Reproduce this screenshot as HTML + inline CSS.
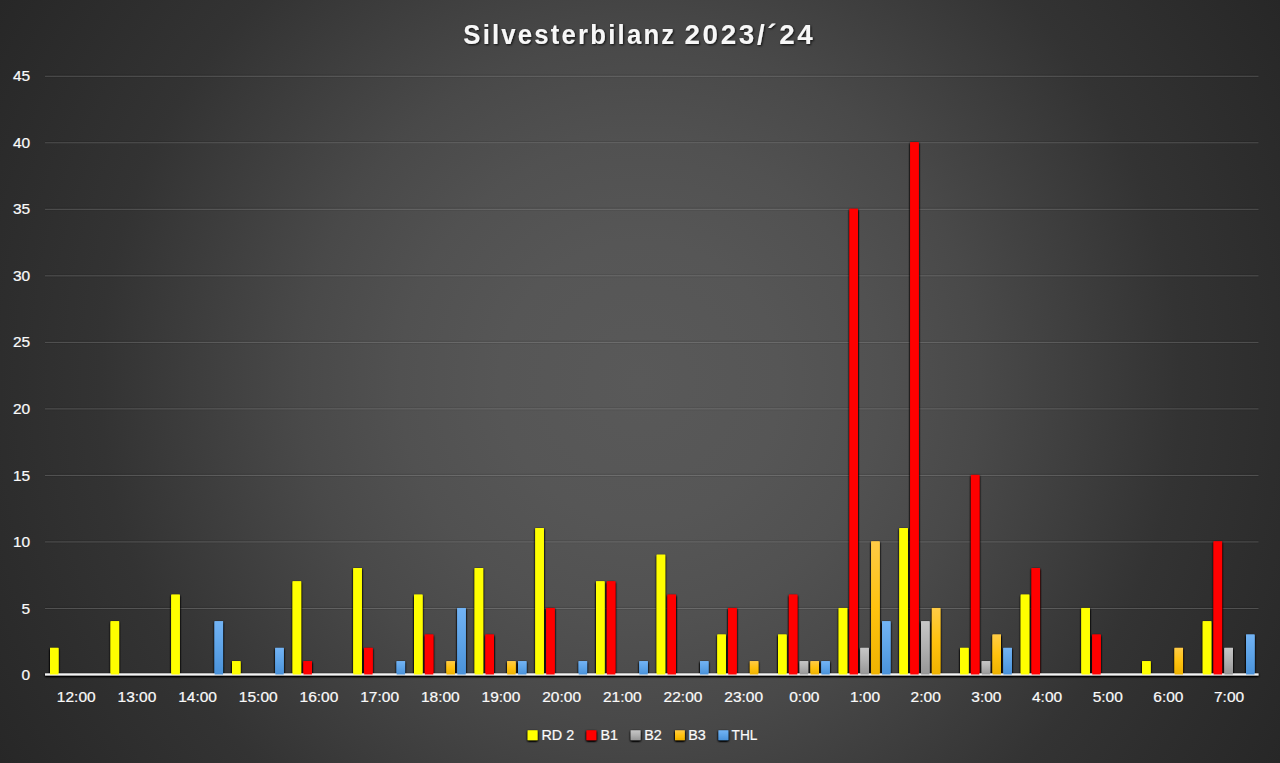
<!DOCTYPE html>
<html lang="de">
<head>
<meta charset="utf-8">
<title>Silvesterbilanz 2023/´24</title>
<style>
html,body{margin:0;padding:0;background:#272727;}
body{width:1280px;height:763px;overflow:hidden;font-family:"Liberation Sans",sans-serif;}
svg{display:block;}
.lbl{font-family:"Liberation Sans",sans-serif;font-size:15.2px;fill:#fafafa;stroke:#fafafa;stroke-width:0.22px;}
.ttl{font-family:"Liberation Sans",sans-serif;font-weight:bold;font-size:27.8px;fill:#f7f7f7;}
</style>
</head>
<body>
<svg width="1280" height="763" viewBox="0 0 1280 763">
<defs>
<radialGradient id="bg" cx="640" cy="381.5" r="745" gradientUnits="userSpaceOnUse">
<stop offset="0.0000" stop-color="#595959"/>
<stop offset="0.1879" stop-color="#565656"/>
<stop offset="0.3221" stop-color="#515151"/>
<stop offset="0.4564" stop-color="#494949"/>
<stop offset="0.5906" stop-color="#3e3e3e"/>
<stop offset="0.7248" stop-color="#333333"/>
<stop offset="0.8591" stop-color="#2d2d2d"/>
<stop offset="1.0000" stop-color="#272727"/>
</radialGradient>
<linearGradient id="gG" x1="0" y1="0" x2="0" y2="1"><stop offset="0" stop-color="#c6c6c6"/><stop offset="0.5" stop-color="#b0b0b0"/><stop offset="1" stop-color="#969696"/></linearGradient>
<linearGradient id="gO" x1="0" y1="0" x2="0" y2="1"><stop offset="0" stop-color="#ffcb45"/><stop offset="0.5" stop-color="#ffc20f"/><stop offset="1" stop-color="#eeb200"/></linearGradient>
<linearGradient id="gB" x1="0" y1="0" x2="0" y2="1"><stop offset="0" stop-color="#72b3f4"/><stop offset="0.5" stop-color="#5ea4e8"/><stop offset="1" stop-color="#4a92da"/></linearGradient>
<filter id="sh" x="-20" y="-20" width="1320" height="803" filterUnits="userSpaceOnUse">
<feGaussianBlur in="SourceAlpha" stdDeviation="1.3"/><feOffset dx="0" dy="0.5"/><feComponentTransfer result="b"><feFuncA type="linear" slope="2.4"/></feComponentTransfer>
<feFlood flood-color="#000" flood-opacity="0.9"/><feComposite in2="b" operator="in"/>
<feMerge><feMergeNode/><feMergeNode in="SourceGraphic"/></feMerge>
</filter>
<filter id="tsh" x="-20" y="-20" width="1320" height="803" filterUnits="userSpaceOnUse">
<feGaussianBlur in="SourceAlpha" stdDeviation="1.2"/><feOffset dx="0.6" dy="1.0" result="b"/>
<feFlood flood-color="#000" flood-opacity="0.8"/><feComposite in2="b" operator="in"/>
<feMerge><feMergeNode/><feMergeNode in="SourceGraphic"/></feMerge>
</filter>
</defs>
<rect x="0" y="0" width="1280" height="763" fill="url(#bg)"/>

<g stroke="#000" stroke-opacity="0.10" stroke-width="3">
<line x1="45.0" y1="608.27" x2="1258.5" y2="608.27"/>
<line x1="45.0" y1="541.75" x2="1258.5" y2="541.75"/>
<line x1="45.0" y1="475.23" x2="1258.5" y2="475.23"/>
<line x1="45.0" y1="408.70" x2="1258.5" y2="408.70"/>
<line x1="45.0" y1="342.18" x2="1258.5" y2="342.18"/>
<line x1="45.0" y1="275.65" x2="1258.5" y2="275.65"/>
<line x1="45.0" y1="209.12" x2="1258.5" y2="209.12"/>
<line x1="45.0" y1="142.60" x2="1258.5" y2="142.60"/>
<line x1="45.0" y1="76.07" x2="1258.5" y2="76.07"/>
</g>
<g stroke="#e0e0e0" stroke-opacity="0.23" stroke-width="1">
<line x1="45.0" y1="608.48" x2="1258.5" y2="608.48"/>
<line x1="45.0" y1="541.95" x2="1258.5" y2="541.95"/>
<line x1="45.0" y1="475.43" x2="1258.5" y2="475.43"/>
<line x1="45.0" y1="408.90" x2="1258.5" y2="408.90"/>
<line x1="45.0" y1="342.38" x2="1258.5" y2="342.38"/>
<line x1="45.0" y1="275.85" x2="1258.5" y2="275.85"/>
<line x1="45.0" y1="209.32" x2="1258.5" y2="209.32"/>
<line x1="45.0" y1="142.80" x2="1258.5" y2="142.80"/>
<line x1="45.0" y1="76.27" x2="1258.5" y2="76.27"/>
</g>
<g class="lbl" text-anchor="end">
<text transform="translate(30.2,680.10) scale(1.02,1)">0</text>
<text transform="translate(30.2,613.58) scale(1.02,1)">5</text>
<text transform="translate(30.2,547.05) scale(1.02,1)">10</text>
<text transform="translate(30.2,480.53) scale(1.02,1)">15</text>
<text transform="translate(30.2,414.00) scale(1.02,1)">20</text>
<text transform="translate(30.2,347.48) scale(1.02,1)">25</text>
<text transform="translate(30.2,280.95) scale(1.02,1)">30</text>
<text transform="translate(30.2,214.42) scale(1.02,1)">35</text>
<text transform="translate(30.2,147.90) scale(1.02,1)">40</text>
<text transform="translate(30.2,81.37) scale(1.02,1)">45</text>
</g>
<g filter="url(#sh)"><g id="bars">
<g fill="#ffff00">
<rect x="50.00" y="647.89" width="8.40" height="26.61"/>
<rect x="110.67" y="621.28" width="8.40" height="53.22"/>
<rect x="171.35" y="594.67" width="8.40" height="79.83"/>
<rect x="232.02" y="661.20" width="8.40" height="13.30"/>
<rect x="292.70" y="581.37" width="8.40" height="93.13"/>
<rect x="353.37" y="568.06" width="8.40" height="106.44"/>
<rect x="414.05" y="594.67" width="8.40" height="79.83"/>
<rect x="474.72" y="568.06" width="8.40" height="106.44"/>
<rect x="535.40" y="528.14" width="8.40" height="146.35"/>
<rect x="596.07" y="581.37" width="8.40" height="93.13"/>
<rect x="656.75" y="554.75" width="8.40" height="119.75"/>
<rect x="717.42" y="634.59" width="8.40" height="39.91"/>
<rect x="778.10" y="634.59" width="8.40" height="39.91"/>
<rect x="838.77" y="607.98" width="8.40" height="66.53"/>
<rect x="899.45" y="528.14" width="8.40" height="146.35"/>
<rect x="960.12" y="647.89" width="8.40" height="26.61"/>
<rect x="1020.80" y="594.67" width="8.40" height="79.83"/>
<rect x="1081.47" y="607.98" width="8.40" height="66.53"/>
<rect x="1142.15" y="661.20" width="8.40" height="13.30"/>
<rect x="1202.82" y="621.28" width="8.40" height="53.22"/>
</g>
<g fill="#ff0000">
<rect x="303.52" y="661.20" width="8.40" height="13.30"/>
<rect x="364.19" y="647.89" width="8.40" height="26.61"/>
<rect x="424.87" y="634.59" width="8.40" height="39.91"/>
<rect x="485.54" y="634.59" width="8.40" height="39.91"/>
<rect x="546.22" y="607.98" width="8.40" height="66.53"/>
<rect x="606.89" y="581.37" width="8.40" height="93.13"/>
<rect x="667.57" y="594.67" width="8.40" height="79.83"/>
<rect x="728.24" y="607.98" width="8.40" height="66.53"/>
<rect x="788.92" y="594.67" width="8.40" height="79.83"/>
<rect x="849.59" y="208.82" width="8.40" height="465.68"/>
<rect x="910.27" y="142.30" width="8.40" height="532.20"/>
<rect x="970.94" y="474.93" width="8.40" height="199.57"/>
<rect x="1031.62" y="568.06" width="8.40" height="106.44"/>
<rect x="1092.29" y="634.59" width="8.40" height="39.91"/>
<rect x="1213.64" y="541.45" width="8.40" height="133.05"/>
</g>
<g fill="url(#gG)">
<rect x="799.74" y="661.20" width="8.40" height="13.30"/>
<rect x="860.41" y="647.89" width="8.40" height="26.61"/>
<rect x="921.09" y="621.28" width="8.40" height="53.22"/>
<rect x="981.76" y="661.20" width="8.40" height="13.30"/>
<rect x="1224.46" y="647.89" width="8.40" height="26.61"/>
</g>
<g fill="url(#gO)">
<rect x="446.51" y="661.20" width="8.40" height="13.30"/>
<rect x="507.18" y="661.20" width="8.40" height="13.30"/>
<rect x="749.88" y="661.20" width="8.40" height="13.30"/>
<rect x="810.56" y="661.20" width="8.40" height="13.30"/>
<rect x="871.23" y="541.45" width="8.40" height="133.05"/>
<rect x="931.91" y="607.98" width="8.40" height="66.53"/>
<rect x="992.58" y="634.59" width="8.40" height="39.91"/>
<rect x="1174.61" y="647.89" width="8.40" height="26.61"/>
</g>
<g fill="url(#gB)">
<rect x="214.63" y="621.28" width="8.40" height="53.22"/>
<rect x="275.30" y="647.89" width="8.40" height="26.61"/>
<rect x="396.65" y="661.20" width="8.40" height="13.30"/>
<rect x="457.33" y="607.98" width="8.40" height="66.53"/>
<rect x="518.00" y="661.20" width="8.40" height="13.30"/>
<rect x="578.68" y="661.20" width="8.40" height="13.30"/>
<rect x="639.35" y="661.20" width="8.40" height="13.30"/>
<rect x="700.03" y="661.20" width="8.40" height="13.30"/>
<rect x="821.38" y="661.20" width="8.40" height="13.30"/>
<rect x="882.05" y="621.28" width="8.40" height="53.22"/>
<rect x="1003.40" y="647.89" width="8.40" height="26.61"/>
<rect x="1246.10" y="634.59" width="8.40" height="39.91"/>
</g>
</g></g>
<g filter="url(#sh)"><rect x="45.0" y="673.40" width="1213.5" height="2.0" fill="#f4f4f4"/></g>
<use href="#bars"/>
<g class="lbl" text-anchor="middle">
<text transform="translate(76.24,702.2) scale(1.02,1)">12:00</text>
<text transform="translate(136.91,702.2) scale(1.02,1)">13:00</text>
<text transform="translate(197.59,702.2) scale(1.02,1)">14:00</text>
<text transform="translate(258.26,702.2) scale(1.02,1)">15:00</text>
<text transform="translate(318.94,702.2) scale(1.02,1)">16:00</text>
<text transform="translate(379.61,702.2) scale(1.02,1)">17:00</text>
<text transform="translate(440.29,702.2) scale(1.02,1)">18:00</text>
<text transform="translate(500.96,702.2) scale(1.02,1)">19:00</text>
<text transform="translate(561.64,702.2) scale(1.02,1)">20:00</text>
<text transform="translate(622.31,702.2) scale(1.02,1)">21:00</text>
<text transform="translate(682.99,702.2) scale(1.02,1)">22:00</text>
<text transform="translate(743.66,702.2) scale(1.02,1)">23:00</text>
<text transform="translate(804.34,702.2) scale(1.02,1)">0:00</text>
<text transform="translate(865.01,702.2) scale(1.02,1)">1:00</text>
<text transform="translate(925.69,702.2) scale(1.02,1)">2:00</text>
<text transform="translate(986.36,702.2) scale(1.02,1)">3:00</text>
<text transform="translate(1047.04,702.2) scale(1.02,1)">4:00</text>
<text transform="translate(1107.71,702.2) scale(1.02,1)">5:00</text>
<text transform="translate(1168.39,702.2) scale(1.02,1)">6:00</text>
<text transform="translate(1229.06,702.2) scale(1.02,1)">7:00</text>
</g>
<g filter="url(#sh)">
<rect x="527.7" y="730.3" width="9.8" height="9.8" fill="#ffff00"/>
<rect x="586.5" y="730.3" width="9.8" height="9.8" fill="#ff0000"/>
<rect x="630.7" y="730.3" width="9.8" height="9.8" fill="url(#gG)"/>
<rect x="675.0" y="730.3" width="9.8" height="9.8" fill="url(#gO)"/>
<rect x="718.5" y="730.3" width="9.8" height="9.8" fill="url(#gB)"/>
</g>
<g class="lbl" style="font-size:15.2px">
<text transform="translate(541.5,740.4) scale(0.945,1)">RD 2</text>
<text transform="translate(600.4,740.4) scale(0.945,1)">B1</text>
<text transform="translate(644.3,740.4) scale(0.945,1)">B2</text>
<text transform="translate(688.3,740.4) scale(0.945,1)">B3</text>
<text transform="translate(731.6,740.4) scale(0.9,1)">THL</text>
</g>
<g filter="url(#tsh)" class="ttl"><text transform="translate(463.3,44.2) scale(0.925,1)" textLength="228.0" lengthAdjust="spacing">Silvesterbilanz</text><text transform="translate(684.5,44.2) scale(1,1)" textLength="128.2" lengthAdjust="spacing">2023/´24</text></g>
</svg>
</body>
</html>
